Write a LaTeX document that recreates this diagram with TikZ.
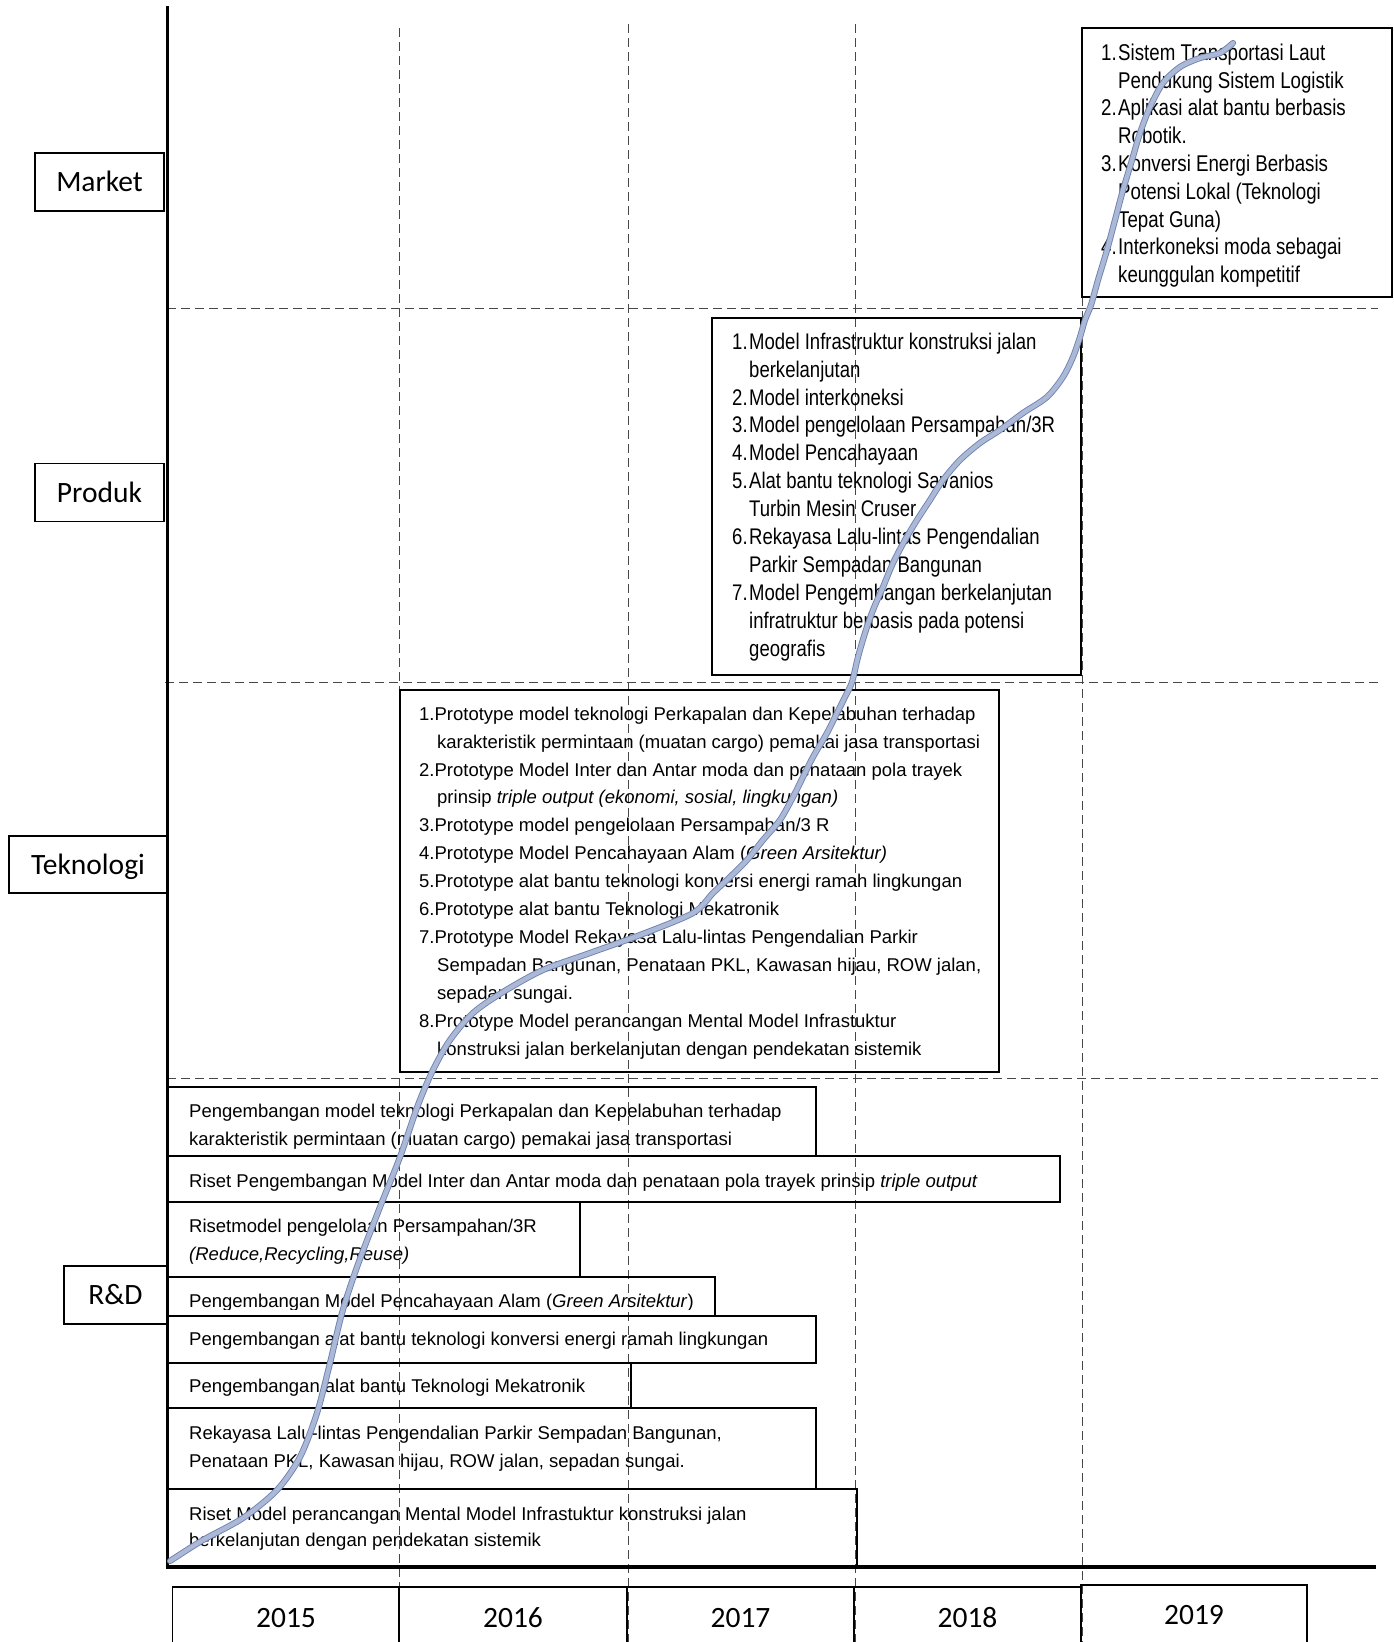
\documentclass[tikz,border=0pt]{standalone}
\usepackage{fontspec}
\setmainfont{Liberation Sans}
\newfontfamily\narrowfont{Liberation Sans}[FakeStretch=0.82]
\newfontfamily\calfont{Carlito}
\newcommand{\tstr}[1]{\rule{0pt}{#1}}
\newcommand{\nmi}[1]{\makebox[17pt][l]{#1}}
\newcommand{\indn}{\hspace*{17pt}}
\newcommand{\indt}{\hspace*{18pt}}
\begin{document}
\begin{tikzpicture}[x=1pt,y=-1pt,
  gridline/.style={draw={rgb,255:red,70;green,70;blue,70}, line width=1pt, dash pattern=on 9pt off 5pt},
  boxline/.style={draw=black, line width=1.1pt},
  lab/.style={draw=black, line width=1.1pt, inner sep=0pt, font=\calfont\fontsize{29.5}{34}\selectfont, text height=19pt, text depth=0pt},
  year/.style={anchor=base, inner sep=0pt, font=\calfont\fontsize{29.5}{34}\selectfont},
  rdtxt/.style={anchor=north west, inner sep=0pt, align=left, font=\fontsize{18.5}{28}\selectfont},
  nartxt/.style={anchor=north west, inner sep=0pt, align=left, font=\narrowfont\fontsize{22.8}{27.8}\selectfont},
  scurve/.style={draw={rgb,255:red,110;green,130;blue,178}, line width=0.9pt, double={rgb,255:red,172;green,185;blue,214}, double distance=4.4pt, line cap=round}]
\useasboundingbox (0,0) rectangle (1394,1642);

% dashed grid
\draw[gridline] (167,308) -- (1378,308);
\draw[gridline] (165,682) -- (1378,682);
\draw[gridline] (167,1078) -- (1378,1078);
\draw[gridline] (399,28) -- (399,1642);
\draw[gridline] (628,24) -- (628,1642);
\draw[gridline] (855,24) -- (855,1642);
\draw[gridline] (1082,297) -- (1082,1642);

% axes
\draw[line width=3pt] (167,6) -- (167,1567);
\draw[line width=4pt] (165.5,1567) -- (1376,1567);

% left labels
\node[lab, minimum width=129pt, minimum height=58pt] (market) at (99.5,182) {Market};
\node[lab, minimum width=129pt, minimum height=58pt] (produk) at (99.5,492.5) {Produk};
\node[lab, minimum width=158pt, minimum height=57pt] (tekno) at (88,864.5) {Teknologi};
\node[lab, minimum width=103pt, minimum height=58pt] (rnd) at (115.5,1295) {R\&D};

% year boxes
\draw[boxline] (172.8,1587) rectangle (399,1660);
\draw[boxline] (399,1587) rectangle (627,1660);
\draw[boxline] (627,1587) rectangle (854,1660);
\draw[boxline] (854,1587) rectangle (1081,1660);
\draw[boxline] (1081,1585) rectangle (1307,1660);
\node[year] (y2015) at (286,1627) {2015};
\node[year] (y2016) at (513,1627) {2016};
\node[year] (y2017) at (740.5,1627) {2017};
\node[year] (y2018) at (967.5,1627) {2018};
\node[year] (y2019) at (1194,1624) {2019};

% Market box
\draw[boxline] (1082,28) rectangle (1392,297);
\node[nartxt] (markettxt) at (1101,38) {\tstr{22pt}\nmi{1.}Sistem Transportasi Laut\\
\indn Pendukung Sistem Logistik\\
\nmi{2.}Aplikasi alat bantu berbasis\\
\indn Robotik.\\
\nmi{3.}Konversi Energi Berbasis\\
\indn Potensi Lokal (Teknologi\\
\indn Tepat Guna)\\
\nmi{4.}Interkoneksi moda sebagai\\
\indn keunggulan kompetitif};

% Produk box
\draw[boxline] (712,318) rectangle (1081,675);
\node[nartxt, font=\narrowfont\fontsize{22.6}{27.9}\selectfont] (produktxt) at (732,327) {\tstr{22pt}\nmi{1.}Model Infrastruktur konstruksi jalan\\
\indn berkelanjutan\\
\nmi{2.}Model interkoneksi\\
\nmi{3.}Model pengelolaan Persampahan/3R\\
\nmi{4.}Model Pencahayaan\\
\nmi{5.}Alat bantu teknologi Savanios\\
\indn Turbin Mesin Cruser\\
\nmi{6.}Rekayasa Lalu-lintas Pengendalian\\
\indn Parkir Sempadan Bangunan\\
\nmi{7.}Model Pengembangan berkelanjutan\\
\indn infratruktur berbasis pada potensi\\
\indn geografis};

% Teknologi box
\draw[boxline] (400,690) rectangle (999,1072);
\node[rdtxt, font=\fontsize{18.5}{27.9}\selectfont] (teknotxt) at (419,700) {\tstr{20pt}1.Prototype model teknologi Perkapalan dan Kepelabuhan terhadap\\
\indt karakteristik permintaan (muatan cargo) pemakai jasa transportasi\\
2.Prototype Model Inter dan Antar moda dan penataan pola trayek\\
\indt prinsip \textit{triple output (ekonomi, sosial, lingkungan)}\\
3.Prototype model pengelolaan Persampahan/3 R\\
4.Prototype Model Pencahayaan Alam (\textit{Green Arsitektur)}\\
5.Prototype alat bantu teknologi konversi energi ramah lingkungan\\
6.Prototype alat bantu Teknologi Mekatronik\\
7.Prototype Model Rekayasa Lalu-lintas Pengendalian Parkir\\
\indt Sempadan Bangunan, Penataan PKL, Kawasan hijau, ROW jalan,\\
\indt sepadan sungai.\\
8.Prototype Model perancangan Mental Model Infrastuktur\\
\indt konstruksi jalan berkelanjutan dengan pendekatan sistemik};

% R&D boxes
\draw[boxline] (167,1087) rectangle (816,1156);
\draw[boxline] (167,1156) rectangle (1060,1202);
\draw[boxline] (167,1202) rectangle (580,1277);
\draw[boxline] (167,1277) rectangle (715,1316);
\draw[boxline] (167,1316) rectangle (816,1363);
\draw[boxline] (167,1363) rectangle (631,1408);
\draw[boxline] (167,1408) rectangle (816,1489);
\draw[boxline] (167,1489) rectangle (857,1567);
\begin{scope}
\clip (168,1088) rectangle (815,1148);
\node[rdtxt] (rd1) at (189,1097) {\tstr{20pt}Pengembangan model teknologi Perkapalan dan Kepelabuhan terhadap\\
karakteristik permintaan (muatan cargo) pemakai jasa transportasi};
\end{scope}
\node[rdtxt] (rd2) at (189,1167) {\tstr{20pt}Riset Pengembangan Model Inter dan Antar moda dan penataan pola trayek prinsip \textit{triple output}};
\node[rdtxt] (rd3) at (189,1212) {\tstr{20pt}Risetmodel pengelolaan Persampahan/3R\\
\textit{(Reduce,Recycling,Reuse)}};
\begin{scope}
\clip (168,1278) rectangle (714,1309);
\node[rdtxt] (rd4) at (189,1287) {\tstr{20pt}Pengembangan Model Pencahayaan Alam (\textit{Green Arsitektur})};
\end{scope}
\node[rdtxt] (rd5) at (189,1325) {\tstr{20pt}Pengembangan alat bantu teknologi konversi energi ramah lingkungan};
\node[rdtxt] (rd6) at (189,1372) {\tstr{20pt}Pengembangan alat bantu Teknologi Mekatronik};
\node[rdtxt] (rd7) at (189,1419) {\tstr{20pt}Rekayasa Lalu-lintas Pengendalian Parkir Sempadan Bangunan,\\
Penataan PKL, Kawasan hijau, ROW jalan, sepadan sungai.};
\node[rdtxt, font=\fontsize{18.5}{26.5}\selectfont] (rd8) at (189,1500) {\tstr{20pt}Riset Model perancangan Mental Model Infrastuktur konstruksi jalan\\
berkelanjutan dengan pendekatan sistemik};

% S-curve
\draw[scurve] plot[smooth, tension=0.5] coordinates {
(170,1561) (203,1540) (243,1518) (277,1490) (300,1457) (317,1413) (330,1363)
(342,1313) (357,1267) (380,1207) (400,1157) (418,1105) (433,1070) (450,1040)
(473,1013) (503,992) (543,970) (590,953) (640,935) (693,913) (713,893)
(730,877) (747,860) (763,840) (780,820) (793,797) (803,777) (813,757)
(827,733) (837,713) (845,697) (852,682) (858,657) (865,633) (873,610)
(883,587) (893,563) (905,540) (917,520) (930,500) (943,480) (960,460)
(980,443) (1000,430) (1023,413) (1047,397) (1063,377) (1073,357) (1080,337)
(1085,320) (1091,305) (1098,280) (1107,250) (1115,220) (1123,190) (1132,160)
(1140,133) (1150,107) (1163,83) (1180,67) (1200,58) (1220,53) (1233,43)};
\end{tikzpicture}
\end{document}
